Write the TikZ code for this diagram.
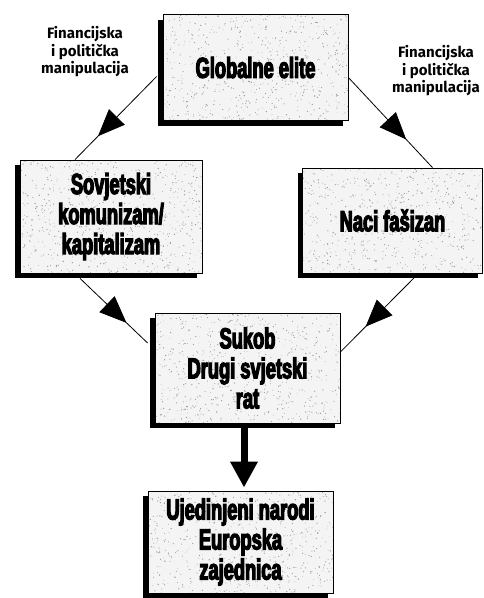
\documentclass[tikz,border=0pt]{standalone}
\usepackage{fontspec}
\usetikzlibrary{arrows.meta,decorations.markings,shadows}
\newfontfamily\labfont{Fira Sans}
\newfontfamily\boxfont{Liberation Sans Bold}[FakeStretch=0.63,FakeBold=4]
\pgfmathsetmacro{\dummy}{1}
\pgfmathsetseed{7}
\tikzset{
  boxnode/.style={draw=black, line width=0.8pt, fill=gray!9, align=center, inner sep=0pt,
    font=\boxfont\fontsize{29}{30}\selectfont,
    drop shadow={shadow xshift=-5pt, shadow yshift=-5pt, fill=black, opacity=1},
    path picture={\foreach \i in {1,...,800}{
      \fill[black!40] ([shift={({rnd*195},{rnd*120})}]path picture bounding box.north west) circle ({0.3pt+0.4pt*rnd});}}},
  lab/.style={align=center, font=\labfont\bfseries\fontsize{15}{17.5}\selectfont},
  midarrow/.style={line width=0.8pt, postaction=decorate,
    decoration={markings, mark=at position #1 with {\arrow{Triangle[length=27pt,width=22pt]}}}},
  bigarrow/.style={line width=7pt, -{Triangle[length=26pt,width=26pt]}, shorten >=3pt}
}
\begin{document}
\begin{tikzpicture}[x=1pt,y=-1pt]
\useasboundingbox[fill=white] (0,0) rectangle (484,598);

\node[boxnode, minimum width=185pt, minimum height=106pt] (G) at (255.5,67.5) {\raisebox{-3pt}{Globalne elite}};
\node[boxnode, minimum width=182pt, minimum height=113pt] (S) at (111,216.5) {Sovjetski\\komunizam/\\kapitalizam};
\node[boxnode, minimum width=180pt, minimum height=105pt] (N) at (392.5,220.5) {Naci fašizan};
\node[boxnode, minimum width=185pt, minimum height=110pt] (K) at (247.5,368) {Sukob\\Drugi svjetski\\rat};
\node[boxnode, minimum width=185pt, minimum height=102pt] (U) at (240.5,542) {Ujedinjeni narodi\\Europska\\zajednica};

\node[lab] (L1) at (85,52) {Financijska\\i politička\\manipulacija};
\node[lab] (L2) at (436,71) {Financijska\\i politička\\manipulacija};

\draw[midarrow=0.72] ([xshift=-6pt,yshift=-9pt]G.west) -- ([xshift=-36pt]S.north);
\draw[midarrow=0.69] ([yshift=-10pt]G.east) -- ([xshift=40pt]N.north);
\draw[midarrow=0.69] ([xshift=-31pt,yshift=-5pt]S.south) -- ([xshift=-7pt,yshift=25pt]K.west);
\draw[midarrow=0.66] ([xshift=22pt,yshift=-4pt]N.south) -- ([yshift=16pt]K.east);
\draw[bigarrow] ([xshift=-3.5pt,yshift=-5pt]K.south) -- ([xshift=3.5pt]U.north);
\end{tikzpicture}
\end{document}
